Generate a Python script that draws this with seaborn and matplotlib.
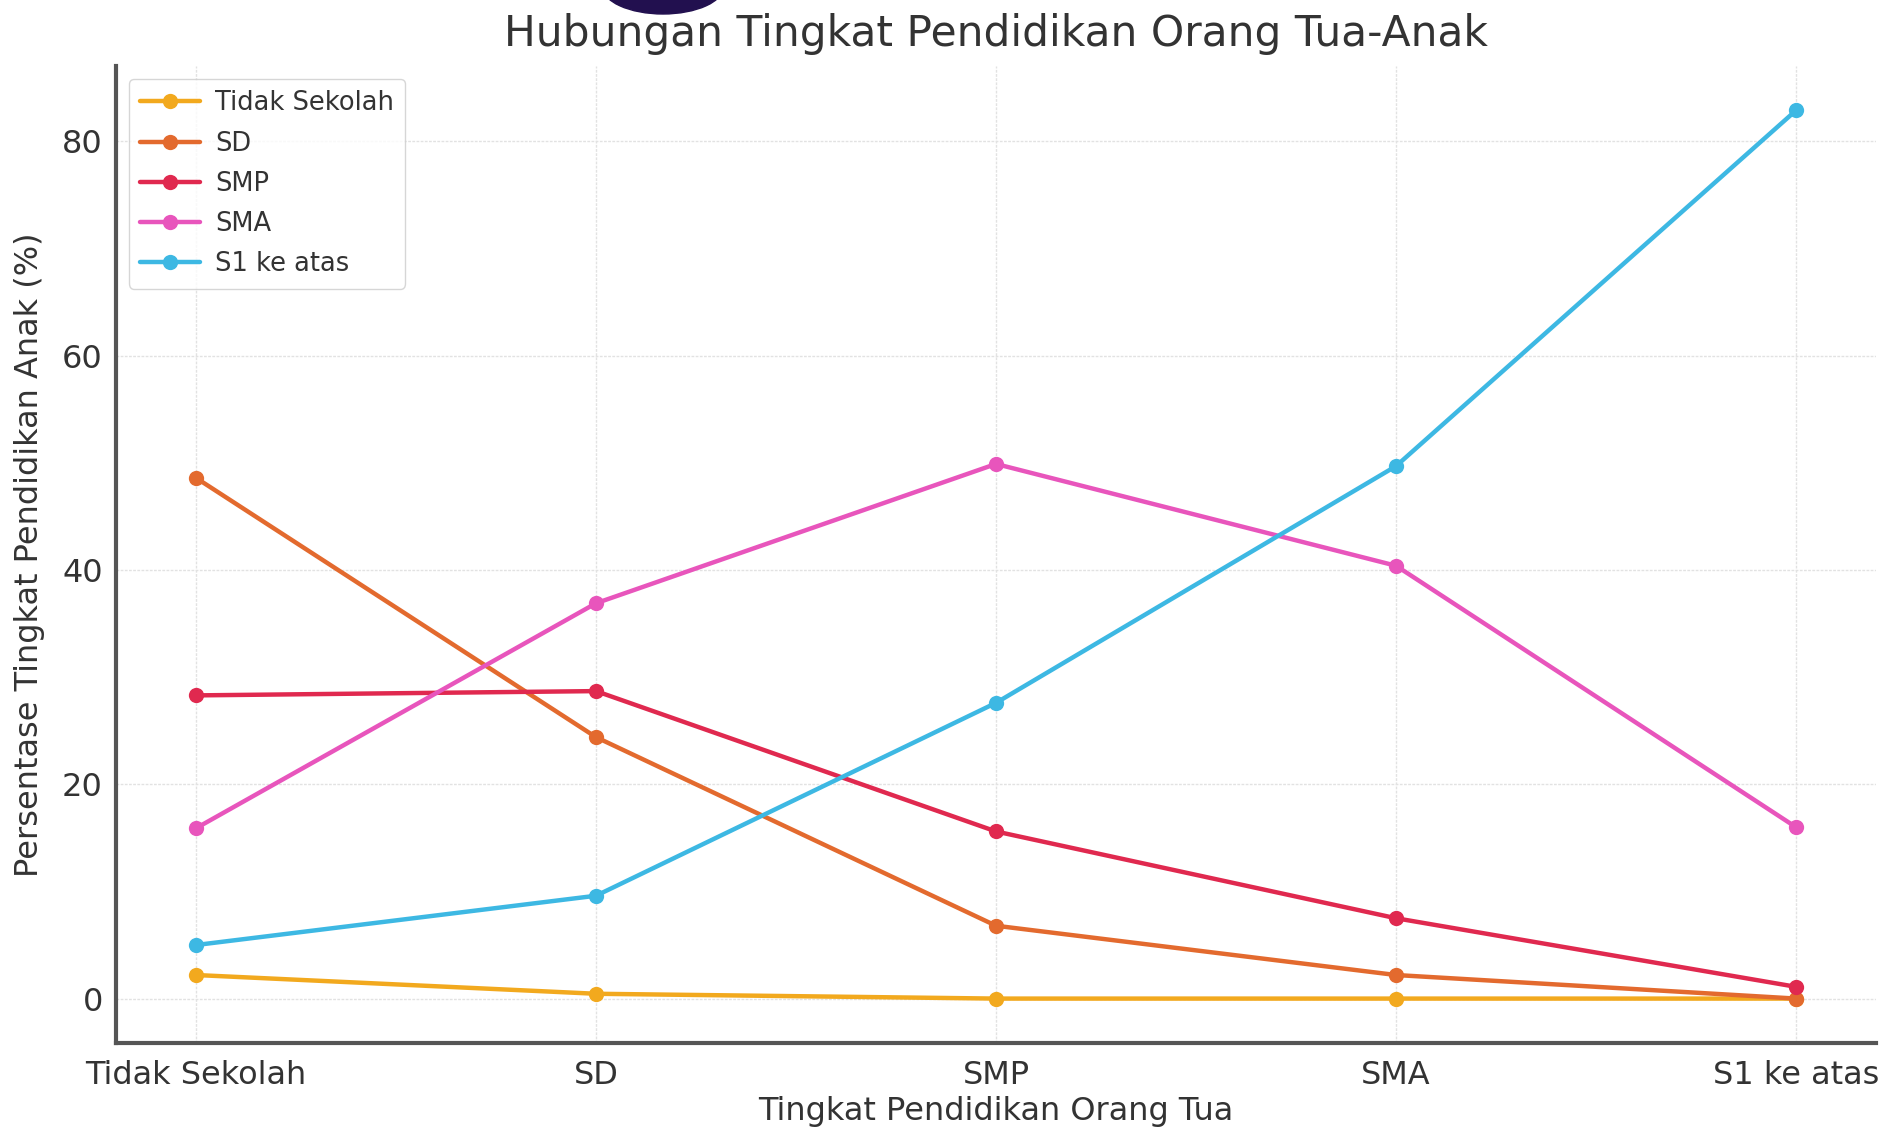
import matplotlib
matplotlib.use("Agg")
import matplotlib.pyplot as plt
import matplotlib.patches as mpatches
import seaborn as sns
import pandas as pd

# Parent education level (x axis)
parent_levels = ["Tidak Sekolah", "SD", "SMP", "SMA", "S1 ke atas"]

# Child education outcome (%) for each parent level
tidak_sekolah = [2.2, 0.45, 0.0, 0.0, 0.0]
sd = [48.6, 24.4, 6.8, 2.2, 0.0]
smp = [28.3, 28.7, 15.6, 7.5, 1.1]
sma = [15.9, 36.9, 49.9, 40.4, 16.0]
s1_ke_atas = [5.0, 9.6, 27.6, 49.7, 82.9]

series_names = ["Tidak Sekolah", "SD", "SMP", "SMA", "S1 ke atas"]
series_values = [tidak_sekolah, sd, smp, sma, s1_ke_atas]
palette = ["#F2A91E", "#E36A2E", "#E0294F", "#E855BC", "#3DB8E3"]

rows = []
for name, vals in zip(series_names, series_values):
    for lvl, v in zip(parent_levels, vals):
        rows.append({"Orang Tua": lvl, "Anak": name, "Persen": v})
df = pd.DataFrame(rows)

sns.set_style("white")
plt.rcParams["font.family"] = ["DejaVu Sans"]

fig = plt.figure(figsize=(18.82, 11.30), dpi=100)
ax = fig.add_axes([116 / 1882, 1 - 1043 / 1130, (1876 - 116) / 1882, (1043 - 66) / 1130])

sns.lineplot(
    data=df, x="Orang Tua", y="Persen", hue="Anak",
    hue_order=series_names, palette=palette,
    marker="o", markersize=11, markeredgewidth=0,
    linewidth=3.2, sort=False, ax=ax,
)

ax.grid(True, color="#e2e2e2", linestyle=(0, (2, 1)), linewidth=1)
ax.set_yticks([0, 20, 40, 60, 80])
ax.tick_params(axis="both", labelsize=23, colors="#333333", length=6, width=1.2)
ax.tick_params(axis="x", pad=6)
for side in ("top", "right"):
    ax.spines[side].set_visible(False)
for side in ("left", "bottom"):
    ax.spines[side].set_color("#555555")
    ax.spines[side].set_linewidth(3)

ax.set_xlabel("Tingkat Pendidikan Orang Tua", fontsize=23, color="#333333", labelpad=4)
ax.set_ylabel("Persentase Tingkat Pendidikan Anak (%)", fontsize=23, color="#333333", labelpad=12)
fig.text(0.529, 0.970, "Hubungan Tingkat Pendidikan Orang Tua-Anak",
         ha="center", va="center", fontsize=30.5, color="#333333")

leg = ax.legend(loc="upper left", fontsize=18.5, frameon=True, borderpad=0.45,
                handlelength=2.3, labelspacing=0.55, handletextpad=0.6,
                bbox_to_anchor=(0.0, 1.0))
leg.get_frame().set_edgecolor("#cccccc")
for t in leg.get_texts():
    t.set_color("#333333")

# dark badge peeking in at the top edge
badge = mpatches.Ellipse((663 / 1882, 1 + 14 / 1130), 122 / 1882, 56 / 1130,
                         transform=fig.transFigure, color="#22104f", clip_on=False)
fig.patches.append(badge)

fig.savefig("out.png", dpi=100)
